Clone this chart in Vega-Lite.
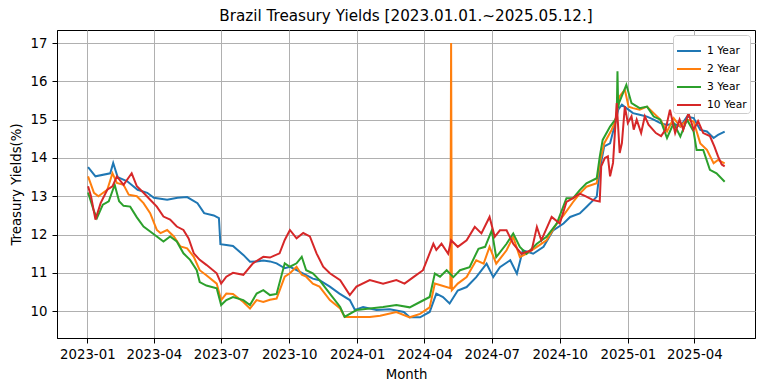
{
"$schema":"https://vega.github.io/schema/vega-lite/v6.json",
"width":698,"height":308,
"autosize":"none",
"padding":{"left":57,"top":30,"right":9,"bottom":53},
"title":{"text":"Brazil Treasury Yields [2023.01.01.~2025.05.12.]","font":"DejaVu Sans","fontSize":15.2,"fontWeight":"normal","color":"black","offset":6},
"data":{"values":[
{"s":"1 Year","d":"2023-01-02","v":13.76},{"s":"1 Year","d":"2023-01-12","v":13.52},{"s":"1 Year","d":"2023-02-01","v":13.6},{"s":"1 Year","d":"2023-02-05","v":13.87},{"s":"1 Year","d":"2023-02-11","v":13.5},{"s":"1 Year","d":"2023-02-24","v":13.39},{"s":"1 Year","d":"2023-03-10","v":13.17},{"s":"1 Year","d":"2023-03-23","v":13.09},{"s":"1 Year","d":"2023-04-01","v":12.96},{"s":"1 Year","d":"2023-04-19","v":12.91},{"s":"1 Year","d":"2023-05-03","v":12.96},{"s":"1 Year","d":"2023-05-16","v":12.98},{"s":"1 Year","d":"2023-05-30","v":12.82},{"s":"1 Year","d":"2023-06-08","v":12.56},{"s":"1 Year","d":"2023-06-21","v":12.5},{"s":"1 Year","d":"2023-06-28","v":12.43},{"s":"1 Year","d":"2023-06-30","v":11.75},{"s":"1 Year","d":"2023-07-08","v":11.73},{"s":"1 Year","d":"2023-07-17","v":11.7},{"s":"1 Year","d":"2023-07-31","v":11.47},{"s":"1 Year","d":"2023-08-09","v":11.29},{"s":"1 Year","d":"2023-08-18","v":11.3},{"s":"1 Year","d":"2023-08-27","v":11.32},{"s":"1 Year","d":"2023-09-05","v":11.3},{"s":"1 Year","d":"2023-09-14","v":11.25},{"s":"1 Year","d":"2023-09-25","v":11.12},{"s":"1 Year","d":"2023-10-02","v":11.16},{"s":"1 Year","d":"2023-10-11","v":11.07},{"s":"1 Year","d":"2023-10-24","v":10.94},{"s":"1 Year","d":"2023-11-02","v":10.85},{"s":"1 Year","d":"2023-11-11","v":10.81},{"s":"1 Year","d":"2023-11-25","v":10.64},{"s":"1 Year","d":"2023-12-08","v":10.46},{"s":"1 Year","d":"2023-12-22","v":10.29},{"s":"1 Year","d":"2023-12-29","v":10.03},{"s":"1 Year","d":"2024-01-09","v":10.11},{"s":"1 Year","d":"2024-01-27","v":10.03},{"s":"1 Year","d":"2024-02-14","v":10.05},{"s":"1 Year","d":"2024-03-04","v":9.98},{"s":"1 Year","d":"2024-03-12","v":9.84},{"s":"1 Year","d":"2024-03-26","v":9.84},{"s":"1 Year","d":"2024-04-08","v":9.98},{"s":"1 Year","d":"2024-04-17","v":10.46},{"s":"1 Year","d":"2024-04-26","v":10.37},{"s":"1 Year","d":"2024-05-05","v":10.2},{"s":"1 Year","d":"2024-05-16","v":10.54},{"s":"1 Year","d":"2024-05-28","v":10.63},{"s":"1 Year","d":"2024-06-10","v":10.89},{"s":"1 Year","d":"2024-06-24","v":11.24},{"s":"1 Year","d":"2024-07-03","v":10.89},{"s":"1 Year","d":"2024-07-12","v":11.15},{"s":"1 Year","d":"2024-07-26","v":11.33},{"s":"1 Year","d":"2024-08-04","v":10.98},{"s":"1 Year","d":"2024-08-12","v":11.59},{"s":"1 Year","d":"2024-08-26","v":11.5},{"s":"1 Year","d":"2024-09-09","v":11.68},{"s":"1 Year","d":"2024-09-22","v":12.11},{"s":"1 Year","d":"2024-10-06","v":12.29},{"s":"1 Year","d":"2024-10-15","v":12.46},{"s":"1 Year","d":"2024-10-28","v":12.55},{"s":"1 Year","d":"2024-11-06","v":12.72},{"s":"1 Year","d":"2024-11-20","v":12.99},{"s":"1 Year","d":"2024-11-24","v":13.69},{"s":"1 Year","d":"2024-11-30","v":14.3},{"s":"1 Year","d":"2024-12-08","v":14.38},{"s":"1 Year","d":"2024-12-15","v":14.91},{"s":"1 Year","d":"2024-12-19","v":15.26},{"s":"1 Year","d":"2024-12-24","v":15.39},{"s":"1 Year","d":"2024-12-30","v":15.3},{"s":"1 Year","d":"2025-01-08","v":15.17},{"s":"1 Year","d":"2025-01-17","v":15.13},{"s":"1 Year","d":"2025-01-27","v":15.08},{"s":"1 Year","d":"2025-02-05","v":15.0},{"s":"1 Year","d":"2025-02-14","v":14.91},{"s":"1 Year","d":"2025-02-23","v":14.86},{"s":"1 Year","d":"2025-03-04","v":14.9},{"s":"1 Year","d":"2025-03-13","v":14.82},{"s":"1 Year","d":"2025-03-22","v":15.08},{"s":"1 Year","d":"2025-03-31","v":15.04},{"s":"1 Year","d":"2025-04-09","v":14.73},{"s":"1 Year","d":"2025-04-18","v":14.69},{"s":"1 Year","d":"2025-04-27","v":14.52},{"s":"1 Year","d":"2025-05-03","v":14.6},{"s":"1 Year","d":"2025-05-12","v":14.69},
{"s":"2 Year","d":"2023-01-02","v":13.52},{"s":"2 Year","d":"2023-01-10","v":13.09},{"s":"2 Year","d":"2023-01-16","v":13.0},{"s":"2 Year","d":"2023-01-28","v":13.17},{"s":"2 Year","d":"2023-02-04","v":13.6},{"s":"2 Year","d":"2023-02-10","v":13.35},{"s":"2 Year","d":"2023-02-19","v":13.3},{"s":"2 Year","d":"2023-02-26","v":13.04},{"s":"2 Year","d":"2023-03-09","v":13.0},{"s":"2 Year","d":"2023-03-18","v":12.82},{"s":"2 Year","d":"2023-03-27","v":12.56},{"s":"2 Year","d":"2023-04-05","v":12.12},{"s":"2 Year","d":"2023-04-10","v":12.04},{"s":"2 Year","d":"2023-04-19","v":12.12},{"s":"2 Year","d":"2023-04-28","v":11.95},{"s":"2 Year","d":"2023-05-07","v":11.69},{"s":"2 Year","d":"2023-05-16","v":11.64},{"s":"2 Year","d":"2023-05-25","v":11.42},{"s":"2 Year","d":"2023-06-02","v":11.07},{"s":"2 Year","d":"2023-06-11","v":10.94},{"s":"2 Year","d":"2023-06-25","v":10.72},{"s":"2 Year","d":"2023-07-01","v":10.29},{"s":"2 Year","d":"2023-07-08","v":10.46},{"s":"2 Year","d":"2023-07-17","v":10.45},{"s":"2 Year","d":"2023-07-31","v":10.24},{"s":"2 Year","d":"2023-08-09","v":10.07},{"s":"2 Year","d":"2023-08-18","v":10.29},{"s":"2 Year","d":"2023-08-27","v":10.24},{"s":"2 Year","d":"2023-09-05","v":10.3},{"s":"2 Year","d":"2023-09-14","v":10.33},{"s":"2 Year","d":"2023-09-25","v":10.9},{"s":"2 Year","d":"2023-10-02","v":10.99},{"s":"2 Year","d":"2023-10-11","v":11.16},{"s":"2 Year","d":"2023-10-18","v":10.95},{"s":"2 Year","d":"2023-10-24","v":10.9},{"s":"2 Year","d":"2023-11-02","v":10.72},{"s":"2 Year","d":"2023-11-11","v":10.64},{"s":"2 Year","d":"2023-11-25","v":10.29},{"s":"2 Year","d":"2023-12-09","v":10.07},{"s":"2 Year","d":"2023-12-15","v":9.85},{"s":"2 Year","d":"2023-12-31","v":9.85},{"s":"2 Year","d":"2024-01-18","v":9.85},{"s":"2 Year","d":"2024-02-01","v":9.88},{"s":"2 Year","d":"2024-02-23","v":9.98},{"s":"2 Year","d":"2024-03-12","v":9.84},{"s":"2 Year","d":"2024-03-26","v":9.93},{"s":"2 Year","d":"2024-04-08","v":10.1},{"s":"2 Year","d":"2024-04-15","v":10.72},{"s":"2 Year","d":"2024-04-24","v":10.67},{"s":"2 Year","d":"2024-05-06","v":10.6},{"s":"2 Year","d":"2024-05-07","v":17.0},{"s":"2 Year","d":"2024-05-08","v":10.55},{"s":"2 Year","d":"2024-05-16","v":10.72},{"s":"2 Year","d":"2024-05-28","v":10.89},{"s":"2 Year","d":"2024-06-10","v":11.33},{"s":"2 Year","d":"2024-06-20","v":11.24},{"s":"2 Year","d":"2024-06-28","v":11.68},{"s":"2 Year","d":"2024-07-07","v":11.24},{"s":"2 Year","d":"2024-07-21","v":11.59},{"s":"2 Year","d":"2024-07-30","v":11.94},{"s":"2 Year","d":"2024-08-08","v":11.41},{"s":"2 Year","d":"2024-08-17","v":11.5},{"s":"2 Year","d":"2024-08-31","v":11.68},{"s":"2 Year","d":"2024-09-13","v":11.85},{"s":"2 Year","d":"2024-09-27","v":12.29},{"s":"2 Year","d":"2024-10-06","v":12.5},{"s":"2 Year","d":"2024-10-19","v":12.85},{"s":"2 Year","d":"2024-10-28","v":13.07},{"s":"2 Year","d":"2024-11-06","v":13.25},{"s":"2 Year","d":"2024-11-20","v":13.34},{"s":"2 Year","d":"2024-11-24","v":13.86},{"s":"2 Year","d":"2024-11-30","v":14.38},{"s":"2 Year","d":"2024-12-10","v":14.73},{"s":"2 Year","d":"2024-12-15","v":14.95},{"s":"2 Year","d":"2024-12-21","v":15.61},{"s":"2 Year","d":"2024-12-28","v":15.78},{"s":"2 Year","d":"2025-01-02","v":15.34},{"s":"2 Year","d":"2025-01-08","v":15.3},{"s":"2 Year","d":"2025-01-17","v":15.26},{"s":"2 Year","d":"2025-01-27","v":15.34},{"s":"2 Year","d":"2025-02-05","v":15.17},{"s":"2 Year","d":"2025-02-14","v":15.0},{"s":"2 Year","d":"2025-02-23","v":14.69},{"s":"2 Year","d":"2025-03-04","v":15.04},{"s":"2 Year","d":"2025-03-13","v":14.82},{"s":"2 Year","d":"2025-03-22","v":15.0},{"s":"2 Year","d":"2025-03-31","v":14.95},{"s":"2 Year","d":"2025-04-09","v":14.38},{"s":"2 Year","d":"2025-04-18","v":14.21},{"s":"2 Year","d":"2025-04-27","v":13.86},{"s":"2 Year","d":"2025-05-03","v":13.95},{"s":"2 Year","d":"2025-05-12","v":13.86},
{"s":"3 Year","d":"2023-01-02","v":13.1},{"s":"3 Year","d":"2023-01-10","v":12.61},{"s":"3 Year","d":"2023-01-14","v":12.43},{"s":"3 Year","d":"2023-01-22","v":12.78},{"s":"3 Year","d":"2023-01-30","v":12.87},{"s":"3 Year","d":"2023-02-07","v":13.3},{"s":"3 Year","d":"2023-02-13","v":12.87},{"s":"3 Year","d":"2023-02-19","v":12.75},{"s":"3 Year","d":"2023-02-28","v":12.73},{"s":"3 Year","d":"2023-03-09","v":12.45},{"s":"3 Year","d":"2023-03-18","v":12.21},{"s":"3 Year","d":"2023-03-27","v":12.08},{"s":"3 Year","d":"2023-04-05","v":11.95},{"s":"3 Year","d":"2023-04-14","v":11.82},{"s":"3 Year","d":"2023-04-23","v":11.95},{"s":"3 Year","d":"2023-05-02","v":11.82},{"s":"3 Year","d":"2023-05-11","v":11.51},{"s":"3 Year","d":"2023-05-20","v":11.34},{"s":"3 Year","d":"2023-05-29","v":11.07},{"s":"3 Year","d":"2023-06-02","v":10.76},{"s":"3 Year","d":"2023-06-11","v":10.67},{"s":"3 Year","d":"2023-06-25","v":10.6},{"s":"3 Year","d":"2023-07-01","v":10.16},{"s":"3 Year","d":"2023-07-08","v":10.29},{"s":"3 Year","d":"2023-07-17","v":10.37},{"s":"3 Year","d":"2023-07-31","v":10.29},{"s":"3 Year","d":"2023-08-09","v":10.16},{"s":"3 Year","d":"2023-08-18","v":10.46},{"s":"3 Year","d":"2023-08-27","v":10.55},{"s":"3 Year","d":"2023-09-05","v":10.42},{"s":"3 Year","d":"2023-09-14","v":10.45},{"s":"3 Year","d":"2023-09-25","v":11.25},{"s":"3 Year","d":"2023-10-02","v":11.16},{"s":"3 Year","d":"2023-10-11","v":11.25},{"s":"3 Year","d":"2023-10-18","v":11.42},{"s":"3 Year","d":"2023-10-24","v":11.07},{"s":"3 Year","d":"2023-11-02","v":10.99},{"s":"3 Year","d":"2023-11-11","v":10.81},{"s":"3 Year","d":"2023-11-25","v":10.46},{"s":"3 Year","d":"2023-12-09","v":10.11},{"s":"3 Year","d":"2023-12-15","v":9.85},{"s":"3 Year","d":"2023-12-31","v":10.03},{"s":"3 Year","d":"2024-01-18","v":10.07},{"s":"3 Year","d":"2024-02-05","v":10.11},{"s":"3 Year","d":"2024-02-23","v":10.16},{"s":"3 Year","d":"2024-03-12","v":10.1},{"s":"3 Year","d":"2024-03-26","v":10.24},{"s":"3 Year","d":"2024-04-08","v":10.37},{"s":"3 Year","d":"2024-04-15","v":10.98},{"s":"3 Year","d":"2024-04-22","v":10.9},{"s":"3 Year","d":"2024-05-01","v":11.07},{"s":"3 Year","d":"2024-05-10","v":10.89},{"s":"3 Year","d":"2024-05-19","v":11.07},{"s":"3 Year","d":"2024-06-01","v":11.15},{"s":"3 Year","d":"2024-06-13","v":11.63},{"s":"3 Year","d":"2024-06-22","v":11.68},{"s":"3 Year","d":"2024-07-01","v":12.11},{"s":"3 Year","d":"2024-07-07","v":11.41},{"s":"3 Year","d":"2024-07-21","v":11.76},{"s":"3 Year","d":"2024-07-30","v":12.03},{"s":"3 Year","d":"2024-08-08","v":11.68},{"s":"3 Year","d":"2024-08-17","v":11.5},{"s":"3 Year","d":"2024-08-31","v":11.76},{"s":"3 Year","d":"2024-09-13","v":11.94},{"s":"3 Year","d":"2024-09-27","v":12.29},{"s":"3 Year","d":"2024-10-10","v":12.95},{"s":"3 Year","d":"2024-10-19","v":12.95},{"s":"3 Year","d":"2024-10-28","v":13.16},{"s":"3 Year","d":"2024-11-06","v":13.34},{"s":"3 Year","d":"2024-11-20","v":13.47},{"s":"3 Year","d":"2024-11-24","v":14.03},{"s":"3 Year","d":"2024-11-28","v":14.47},{"s":"3 Year","d":"2024-12-08","v":14.82},{"s":"3 Year","d":"2024-12-15","v":15.0},{"s":"3 Year","d":"2024-12-17","v":15.1},{"s":"3 Year","d":"2024-12-18","v":16.26},{"s":"3 Year","d":"2024-12-19","v":15.3},{"s":"3 Year","d":"2024-12-20","v":15.43},{"s":"3 Year","d":"2024-12-30","v":15.91},{"s":"3 Year","d":"2025-01-06","v":15.43},{"s":"3 Year","d":"2025-01-17","v":15.3},{"s":"3 Year","d":"2025-01-27","v":15.34},{"s":"3 Year","d":"2025-02-05","v":15.08},{"s":"3 Year","d":"2025-02-14","v":15.0},{"s":"3 Year","d":"2025-02-23","v":14.52},{"s":"3 Year","d":"2025-03-04","v":14.91},{"s":"3 Year","d":"2025-03-13","v":14.56},{"s":"3 Year","d":"2025-03-22","v":15.0},{"s":"3 Year","d":"2025-03-31","v":14.69},{"s":"3 Year","d":"2025-04-04","v":14.21},{"s":"3 Year","d":"2025-04-13","v":14.21},{"s":"3 Year","d":"2025-04-22","v":13.69},{"s":"3 Year","d":"2025-05-01","v":13.6},{"s":"3 Year","d":"2025-05-12","v":13.38},
{"s":"10 Year","d":"2023-01-02","v":13.26},{"s":"10 Year","d":"2023-01-06","v":13.0},{"s":"10 Year","d":"2023-01-12","v":12.39},{"s":"10 Year","d":"2023-01-19","v":12.82},{"s":"10 Year","d":"2023-01-28","v":13.17},{"s":"10 Year","d":"2023-02-04","v":13.26},{"s":"10 Year","d":"2023-02-10","v":13.52},{"s":"10 Year","d":"2023-02-19","v":13.3},{"s":"10 Year","d":"2023-03-02","v":13.6},{"s":"10 Year","d":"2023-03-09","v":13.26},{"s":"10 Year","d":"2023-03-18","v":13.09},{"s":"10 Year","d":"2023-03-27","v":12.91},{"s":"10 Year","d":"2023-04-05","v":12.73},{"s":"10 Year","d":"2023-04-14","v":12.47},{"s":"10 Year","d":"2023-04-23","v":12.39},{"s":"10 Year","d":"2023-05-02","v":12.21},{"s":"10 Year","d":"2023-05-11","v":12.12},{"s":"10 Year","d":"2023-05-18","v":11.9},{"s":"10 Year","d":"2023-05-25","v":11.51},{"s":"10 Year","d":"2023-06-02","v":11.34},{"s":"10 Year","d":"2023-06-11","v":11.21},{"s":"10 Year","d":"2023-06-25","v":10.99},{"s":"10 Year","d":"2023-07-01","v":10.72},{"s":"10 Year","d":"2023-07-08","v":10.9},{"s":"10 Year","d":"2023-07-17","v":11.0},{"s":"10 Year","d":"2023-07-31","v":10.95},{"s":"10 Year","d":"2023-08-13","v":11.25},{"s":"10 Year","d":"2023-08-27","v":11.42},{"s":"10 Year","d":"2023-09-05","v":11.4},{"s":"10 Year","d":"2023-09-18","v":11.51},{"s":"10 Year","d":"2023-09-25","v":11.86},{"s":"10 Year","d":"2023-10-02","v":12.12},{"s":"10 Year","d":"2023-10-11","v":11.9},{"s":"10 Year","d":"2023-10-20","v":12.04},{"s":"10 Year","d":"2023-10-29","v":11.95},{"s":"10 Year","d":"2023-11-07","v":11.51},{"s":"10 Year","d":"2023-11-16","v":11.16},{"s":"10 Year","d":"2023-11-25","v":10.99},{"s":"10 Year","d":"2023-12-09","v":10.81},{"s":"10 Year","d":"2023-12-22","v":10.42},{"s":"10 Year","d":"2023-12-31","v":10.64},{"s":"10 Year","d":"2024-01-18","v":10.81},{"s":"10 Year","d":"2024-02-05","v":10.72},{"s":"10 Year","d":"2024-02-23","v":10.81},{"s":"10 Year","d":"2024-03-05","v":10.72},{"s":"10 Year","d":"2024-03-17","v":10.89},{"s":"10 Year","d":"2024-03-30","v":11.07},{"s":"10 Year","d":"2024-04-13","v":11.76},{"s":"10 Year","d":"2024-04-17","v":11.6},{"s":"10 Year","d":"2024-04-24","v":11.76},{"s":"10 Year","d":"2024-05-03","v":11.5},{"s":"10 Year","d":"2024-05-07","v":11.85},{"s":"10 Year","d":"2024-05-16","v":11.68},{"s":"10 Year","d":"2024-05-28","v":11.85},{"s":"10 Year","d":"2024-06-08","v":12.2},{"s":"10 Year","d":"2024-06-17","v":12.03},{"s":"10 Year","d":"2024-06-28","v":12.46},{"s":"10 Year","d":"2024-07-05","v":11.94},{"s":"10 Year","d":"2024-07-12","v":12.11},{"s":"10 Year","d":"2024-07-21","v":12.11},{"s":"10 Year","d":"2024-07-30","v":11.76},{"s":"10 Year","d":"2024-08-10","v":11.5},{"s":"10 Year","d":"2024-08-24","v":11.59},{"s":"10 Year","d":"2024-08-31","v":12.2},{"s":"10 Year","d":"2024-09-06","v":11.85},{"s":"10 Year","d":"2024-09-20","v":12.46},{"s":"10 Year","d":"2024-10-01","v":12.29},{"s":"10 Year","d":"2024-10-10","v":12.85},{"s":"10 Year","d":"2024-10-19","v":12.95},{"s":"10 Year","d":"2024-10-28","v":13.07},{"s":"10 Year","d":"2024-11-06","v":12.99},{"s":"10 Year","d":"2024-11-15","v":12.9},{"s":"10 Year","d":"2024-11-24","v":12.86},{"s":"10 Year","d":"2024-11-26","v":13.78},{"s":"10 Year","d":"2024-12-01","v":14.0},{"s":"10 Year","d":"2024-12-05","v":14.04},{"s":"10 Year","d":"2024-12-08","v":13.52},{"s":"10 Year","d":"2024-12-12","v":13.87},{"s":"10 Year","d":"2024-12-17","v":15.43},{"s":"10 Year","d":"2024-12-21","v":14.13},{"s":"10 Year","d":"2024-12-24","v":14.39},{"s":"10 Year","d":"2024-12-28","v":15.35},{"s":"10 Year","d":"2025-01-01","v":14.91},{"s":"10 Year","d":"2025-01-06","v":15.09},{"s":"10 Year","d":"2025-01-09","v":14.74},{"s":"10 Year","d":"2025-01-13","v":15.0},{"s":"10 Year","d":"2025-01-19","v":14.65},{"s":"10 Year","d":"2025-01-24","v":15.09},{"s":"10 Year","d":"2025-01-29","v":14.87},{"s":"10 Year","d":"2025-02-08","v":14.65},{"s":"10 Year","d":"2025-02-15","v":14.57},{"s":"10 Year","d":"2025-02-21","v":14.74},{"s":"10 Year","d":"2025-02-27","v":15.26},{"s":"10 Year","d":"2025-03-06","v":14.65},{"s":"10 Year","d":"2025-03-12","v":15.0},{"s":"10 Year","d":"2025-03-17","v":14.74},{"s":"10 Year","d":"2025-03-24","v":15.17},{"s":"10 Year","d":"2025-03-31","v":14.74},{"s":"10 Year","d":"2025-04-06","v":14.96},{"s":"10 Year","d":"2025-04-13","v":14.65},{"s":"10 Year","d":"2025-04-22","v":14.57},{"s":"10 Year","d":"2025-04-28","v":14.3},{"s":"10 Year","d":"2025-05-03","v":14.04},{"s":"10 Year","d":"2025-05-08","v":13.83},{"s":"10 Year","d":"2025-05-12","v":13.78}
]},
"mark":{"type":"line","strokeWidth":2,"interpolate":"linear"},
"encoding":{
"x":{"field":"d","type":"temporal","title":"Month",
"scale":{"type":"utc","domain":[{"year":2022,"month":11,"date":21,"utc":true},{"year":2025,"month":6,"date":22,"utc":true}],"nice":false},
"axis":{"values":[{"year":2023,"month":1,"date":1,"utc":true},{"year":2023,"month":4,"date":1,"utc":true},{"year":2023,"month":7,"date":1,"utc":true},{"year":2023,"month":10,"date":1,"utc":true},{"year":2024,"month":1,"date":1,"utc":true},{"year":2024,"month":4,"date":1,"utc":true},{"year":2024,"month":7,"date":1,"utc":true},{"year":2024,"month":10,"date":1,"utc":true},{"year":2025,"month":1,"date":1,"utc":true},{"year":2025,"month":4,"date":1,"utc":true}],"labelExpr":"utcFormat(datum.value, '%Y-%m')","labelFlush":false,"labelOverlap":false,"labelPadding":4,"titlePadding":7}},
"y":{"field":"v","type":"quantitative","title":"Treasury Yields(%)",
"scale":{"domain":[9.30,17.34],"nice":false,"zero":false},
"axis":{"values":[10,11,12,13,14,15,16,17],"labelPadding":5,"titlePadding":7}},
"color":{"field":"s","type":"nominal","title":null,
"scale":{"domain":["1 Year","2 Year","3 Year","10 Year"],"range":["#1f77b4","#ff7f0e","#2ca02c","#d62728"]},
"legend":{"orient":"top-right","offset":5,"symbolType":"stroke","symbolSize":576,"symbolStrokeWidth":2,"labelFontSize":10.7,"labelFont":"DejaVu Sans","labelColor":"black","fillColor":"white","strokeColor":"#cccccc","padding":3,"cornerRadius":3,"rowPadding":-20,"labelOffset":5}}
},
"config":{
"view":{"stroke":"black","strokeWidth":1},
"font":"DejaVu Sans",
"axis":{"labelFont":"DejaVu Sans","labelFontSize":13.3,"labelColor":"black","titleFont":"DejaVu Sans","titleFontSize":13.3,"titleFontWeight":"normal","titleColor":"black","domainColor":"black","domainWidth":1,"tickColor":"black","tickWidth":1,"tickSize":5,"gridColor":"#b0b0b0","gridWidth":1,"gridOpacity":1}
}
}
